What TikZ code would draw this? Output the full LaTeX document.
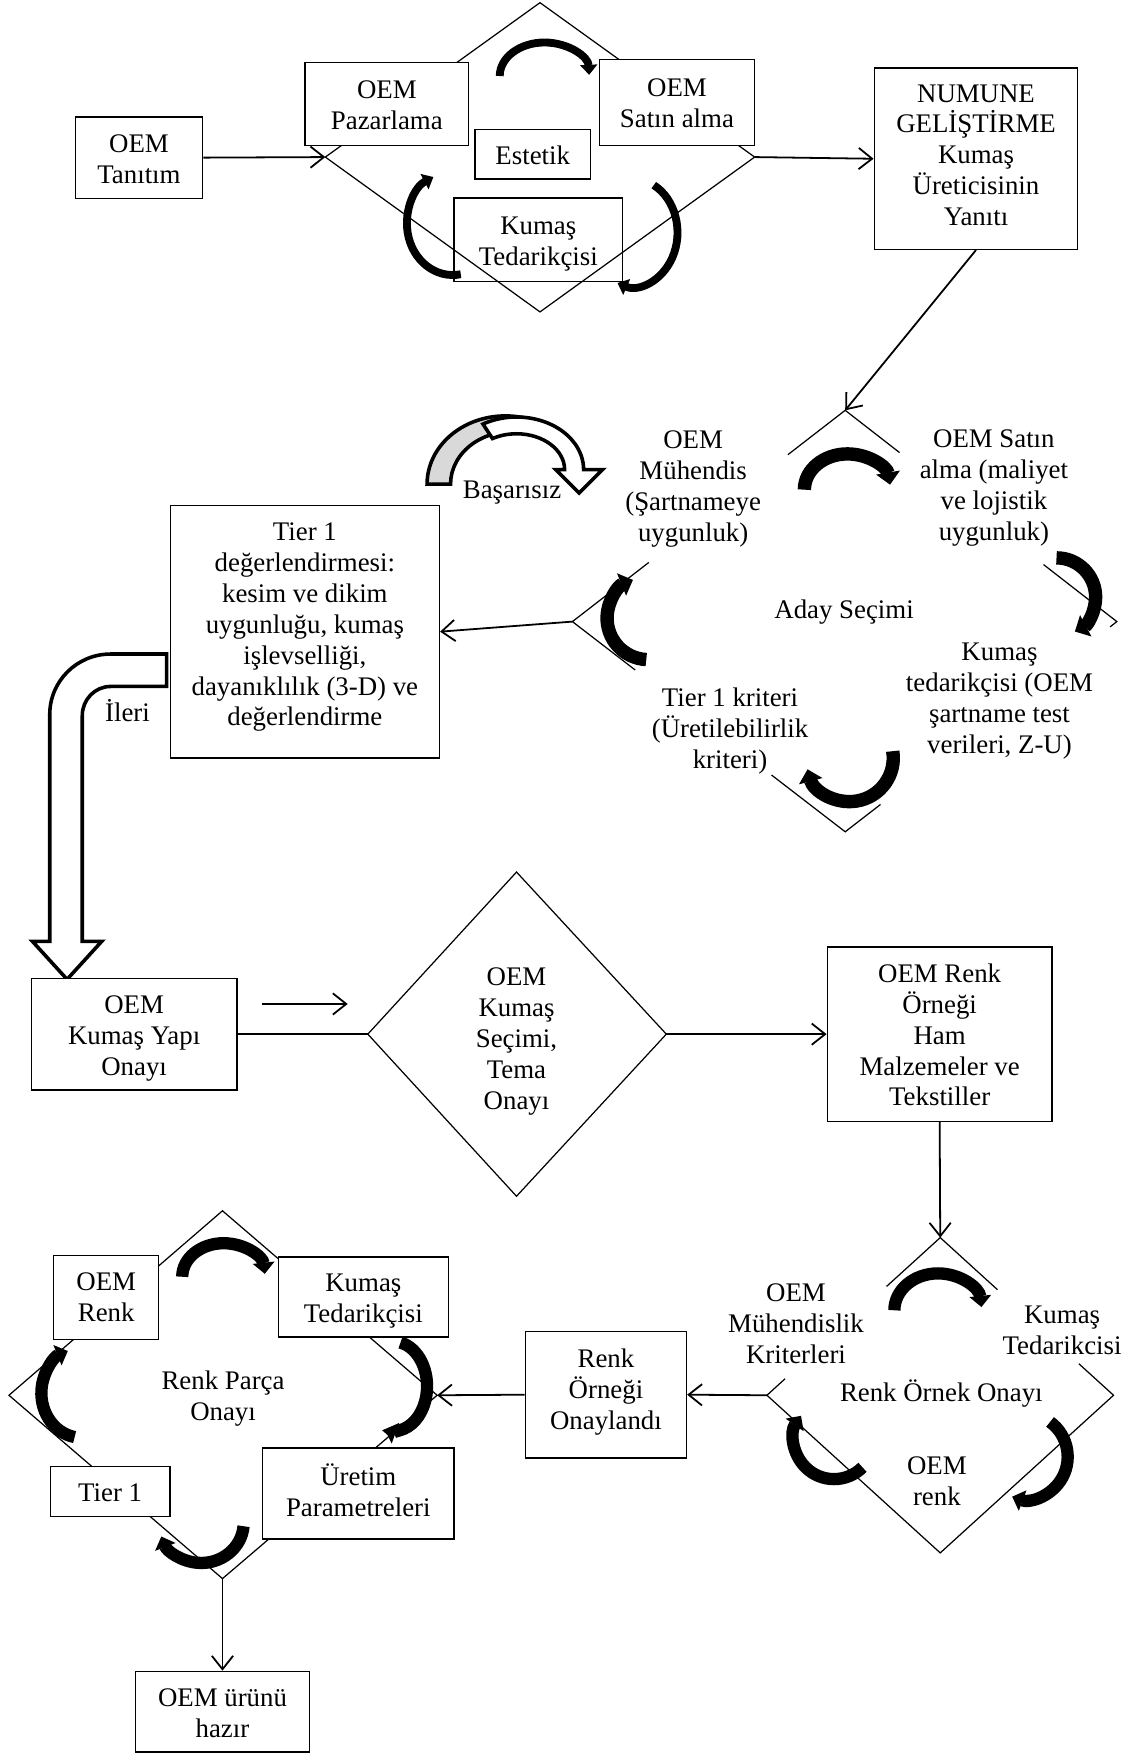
\documentclass[tikz,border=0pt]{standalone}
\usepackage{fontspec}
\setmainfont{Liberation Serif}
\usetikzlibrary{arrows.meta,calc}
\newcommand\fs{\fontsize{24}{27.6}\selectfont}
% a taller strut on the first line and a strut on the last one fix where the lines sit
\newcommand\topstrut{\rule{0pt}{26.3pt}}
\newcommand\tl[1]{\topstrut#1\strut}
% elliptical cycle arrow: style, centre x, centre y, x radius, y radius, start angle, end angle
\newcommand\cyclearc[7]{\draw[#1] ($(#2,#3)+(#6:#4 and #5)$) arc[start angle=#6,end angle=#7,x radius=#4,y radius=#5];}
\begin{document}
\begin{tikzpicture}[x=1pt,y=-1pt,
  box/.style={draw,line width=1.3pt,fill=white,inner sep=0pt,align=center,font=\fs},
  txt/.style={inner sep=0pt,align=center,font=\fs},
  conn/.style={line width=1.6pt,-{Straight Barb[length=12pt,width=19pt]}},
  plain/.style={line width=1.6pt},
  dia/.style={line width=1.1pt,line join=miter},
  cycS/.style={line width=7pt,-{Triangle[length=9pt,width=15pt]}},
  cycL/.style={line width=12pt,-{Triangle[length=11pt,width=21pt]}},
  cycM/.style={line width=11pt,-{Triangle[length=10pt,width=19pt]}},
  block/.style={line width=3.2pt,line join=miter},
]
\useasboundingbox (0,0) rectangle (1013,1568);

% ---------- sample development cycle ----------
\coordinate (aT) at (483,2.4);
\coordinate (aR) at (675,140.5);
\coordinate (aB) at (483,279);
\coordinate (aL) at (291,140.5);
\draw[dia] (aT) -- (aR) -- (aB) -- (aL) -- cycle;
\node[box,minimum width=146pt,minimum height=74pt] (paz) at (346,93) {\tl{OEM\\Pazarlama}};
\node[box,minimum width=139pt,minimum height=77pt] (satin) at (605.5,91.5) {\tl{OEM\\Satın alma}};
\node[box,minimum width=103pt,minimum height=44pt] (estetik) at (476.5,138) {\tl{Estetik}};
\node[box,fill=none,minimum width=151pt,minimum height=75pt] (kumas1) at (481.5,214.5) {\tl{Kumaş\\Tedarikçisi}};
\cyclearc{cycS}{487}{68}{40}{30}{180}{358}
\cyclearc{cycS}{566}{208}{40}{48}{-62}{110}
\cyclearc{cycS}{405}{200}{41}{46}{80}{245}

\node[box,minimum width=114pt,minimum height=73pt] (tanitim) at (124.3,141) {\tl{OEM\\Tanıtım}};
\node[box,minimum width=182pt,minimum height=162pt] (numune) at (873,142) {};
\node[txt] (numunetxt) at (873,137.5) {\tl{NUMUNE\\GELİŞTİRME\\Kumaş\\Üreticisinin\\Yanıtı}};
\draw[conn] (tanitim.east) -- (aL);
\draw[conn] (aR) -- (numune.west);

% ---------- candidate selection ----------
\coordinate (bT) at (756,367);
\coordinate (bR) at (999,556);
\coordinate (bB) at (756,744);
\coordinate (bL) at (512,556);
\draw[dia] ($(bT)!0.21!(bL)$) -- (bT) -- ($(bT)!0.2!(bR)$);
\draw[dia] ($(bT)!0.72!(bL)$) -- (bL) -- ($(bL)!0.23!(bB)$);
\draw[dia] ($(bT)!0.73!(bR)$) -- (bR) -- ($(bR)!0.025!(bB)$);
\draw[dia] ($(bB)!0.27!(bL)$) -- (bB) -- ($(bB)!0.13!(bR)$);
\draw[conn] (numune.south) -- (bT);

\node[txt] (muh) at (620,434) {\tl{OEM\\Mühendis\\(Şartnameye\\uygunluk)}};
\node[txt] (satin2) at (889,433) {\tl{OEM Satın\\alma (maliyet\\ve lojistik\\uygunluk)}};
\node[txt] (aday) at (755,544) {\tl{Aday Seçimi}};
\node[txt] (kum2) at (894,623.5) {\tl{Kumaş\\tedarikçisi (OEM\\şartname test\\verileri, Z-U)}};
\node[txt] (krit) at (653,650.5) {\tl{Tier 1 kriteri\\(Üretilebilirlik\\kriteri)}};
\cyclearc{cycL}{758}{438}{38.5}{32}{180}{352}
\cyclearc{cycL}{945}{534}{35}{35}{-90}{62}
\cyclearc{cycL}{760}{678}{39}{39}{-9}{165}
\cyclearc{cycL}{580}{553}{37}{37}{93}{248}

\node[box,minimum width=240.6pt,minimum height=226pt] (tier) at (272.7,565) {};
\node[txt] (tiertxt) at (272.7,557.5) {\tl{Tier 1\\değerlendirmesi:\\kesim ve dikim\\uygunluğu, kumaş\\işlevselliği,\\dayanıklılık (3-D) ve\\değerlendirme}};
\draw[conn] (bL) -- (tier.east);

% failed: back to the engineering check
\filldraw[block,fill=gray!30] ($(452,433)+(180:70 and 61)$) arc[start angle=180,end angle=290,x radius=70,y radius=61]
  -- ($(458,433)+(290:55 and 47)$) arc[start angle=290,end angle=180,x radius=55,y radius=47] -- cycle;
\filldraw[block,fill=white] ($(462,420)+(240:60 and 47)$) arc[start angle=240,end angle=360,x radius=60,y radius=47]
  -- (539,420) -- (518,441) -- (497,420)
  -- ($(462,420)+(0:43 and 32)$) arc[start angle=0,end angle=-120,x radius=43,y radius=32] -- cycle;
\node[txt] (basar) at (458,437) {\tl{Başarısız}};

% forward: bent block arrow
\filldraw[block,fill=white] (149,585) -- (99,585) arc[start angle=270,end angle=180,x radius=54.5,y radius=54]
  -- (44.5,842) -- (29,842) -- (60,876) -- (91,842) -- (73.6,842) -- (73.6,640)
  arc[start angle=180,end angle=270,x radius=25.4,y radius=26] -- (149,614) -- cycle;
\node[txt] (ileri) at (114,636) {\tl{İleri}};

% ---------- fabric selection ----------
\node[box,minimum width=184pt,minimum height=100pt] (yapi) at (120,925) {\tl{OEM\\Kumaş Yapı\\Onayı}};
\coordinate (cT) at (462,780);
\coordinate (cR) at (596,925);
\coordinate (cB) at (462,1070);
\coordinate (cL) at (329,925);
\draw[dia] (cT) -- (cR) -- (cB) -- (cL) -- cycle;
\node[txt] (secim) at (462,928) {\tl{OEM\\Kumaş\\Seçimi,\\Tema\\Onayı}};
\draw[plain] (yapi.east) -- (cL);
\coordinate (fa) at (234,898);
\coordinate (fb) at (311,898);
\draw[conn] (fa) -- (fb);
\node[box,minimum width=201pt,minimum height=156pt] (renk) at (840.5,925) {\tl{OEM Renk\\Örneği\\Ham\\Malzemeler ve\\Tekstiller}};
\draw[conn] (cR) -- (renk.west);

% ---------- colour sample approval ----------
\coordinate (eT) at (841,1107);
\coordinate (eR) at (996,1248);
\coordinate (eB) at (841,1389);
\coordinate (eL) at (686,1248);
\draw[dia] ($(eT)!0.31!(eL)$) -- (eT) -- ($(eT)!0.33!(eR)$);
\draw[dia] ($(eL)!0.105!(eT)$) -- (eL) -- (eB) -- (eR) -- ($(eR)!0.2!(eT)$);
\draw[conn] (renk.south) -- (eT);
\node[txt] (muh2) at (712,1183) {\tl{OEM\\Mühendislik\\Kriterleri}};
\node[txt] (ted2) at (950,1189) {\tl{Kumaş\\Tedarikcisi}};
\node[txt] (ornek) at (842,1245) {\tl{Renk Örnek Onayı}};
\node[txt] (oemrenk) at (838,1323.5) {\tl{OEM\\renk}};
\cyclearc{cycM}{839}{1172}{39}{33}{180}{355}
\cyclearc{cycM}{918}{1303}{37}{38}{-55}{110}
\cyclearc{cycM}{746}{1287}{36}{36}{45}{215}

\node[box,minimum width=144pt,minimum height=113pt] (onay) at (542,1247.5) {};
\node[txt] (onaytxt) at (542,1242) {\tl{Renk\\Örneği\\Onaylandı}};
\draw[conn] (eL) -- (onay.east);

% ---------- colour part approval ----------
\coordinate (fT) at (199,1083);
\coordinate (fR) at (391,1248);
\coordinate (fB) at (199,1412);
\coordinate (fL) at (8,1248);
\draw[dia] (fT) -- (fR) -- (fB) -- (fL) -- cycle;
\node[box,minimum width=94pt,minimum height=75pt] (prenk) at (95,1160.5) {};
\node[txt] (prenktxt) at (95,1159.5) {\tl{OEM\\Renk}};
\node[box,minimum width=152pt,minimum height=71.5pt] (pted) at (325,1160) {\tl{Kumaş\\Tedarikçisi}};
\node[box,minimum width=107pt,minimum height=44.5pt] (ptier) at (98.5,1334) {\tl{Tier 1}};
\node[box,minimum width=171pt,minimum height=81.5pt] (puret) at (320.5,1336) {};
\node[txt] (purettxt) at (320.5,1333.5) {\tl{Üretim\\Parametreleri}};
\node[txt] (parca) at (199.5,1247.5) {\tl{Renk Parça\\Onayı}};
\cyclearc{cycM}{200}{1142}{37}{30}{180}{355}
\cyclearc{cycM}{352}{1240}{30}{40}{-78}{105}
\cyclearc{cycM}{180}{1362}{38}{36}{5}{160}
\cyclearc{cycM}{73}{1246}{36}{40}{100}{250}
\draw[conn] (onay.west) -- (fR);

\node[box,minimum width=156pt,minimum height=72pt] (hazir) at (199,1531) {\tl{OEM ürünü\\hazır}};
\draw[conn] (fB) -- (hazir.north);
\end{tikzpicture}
\end{document}
